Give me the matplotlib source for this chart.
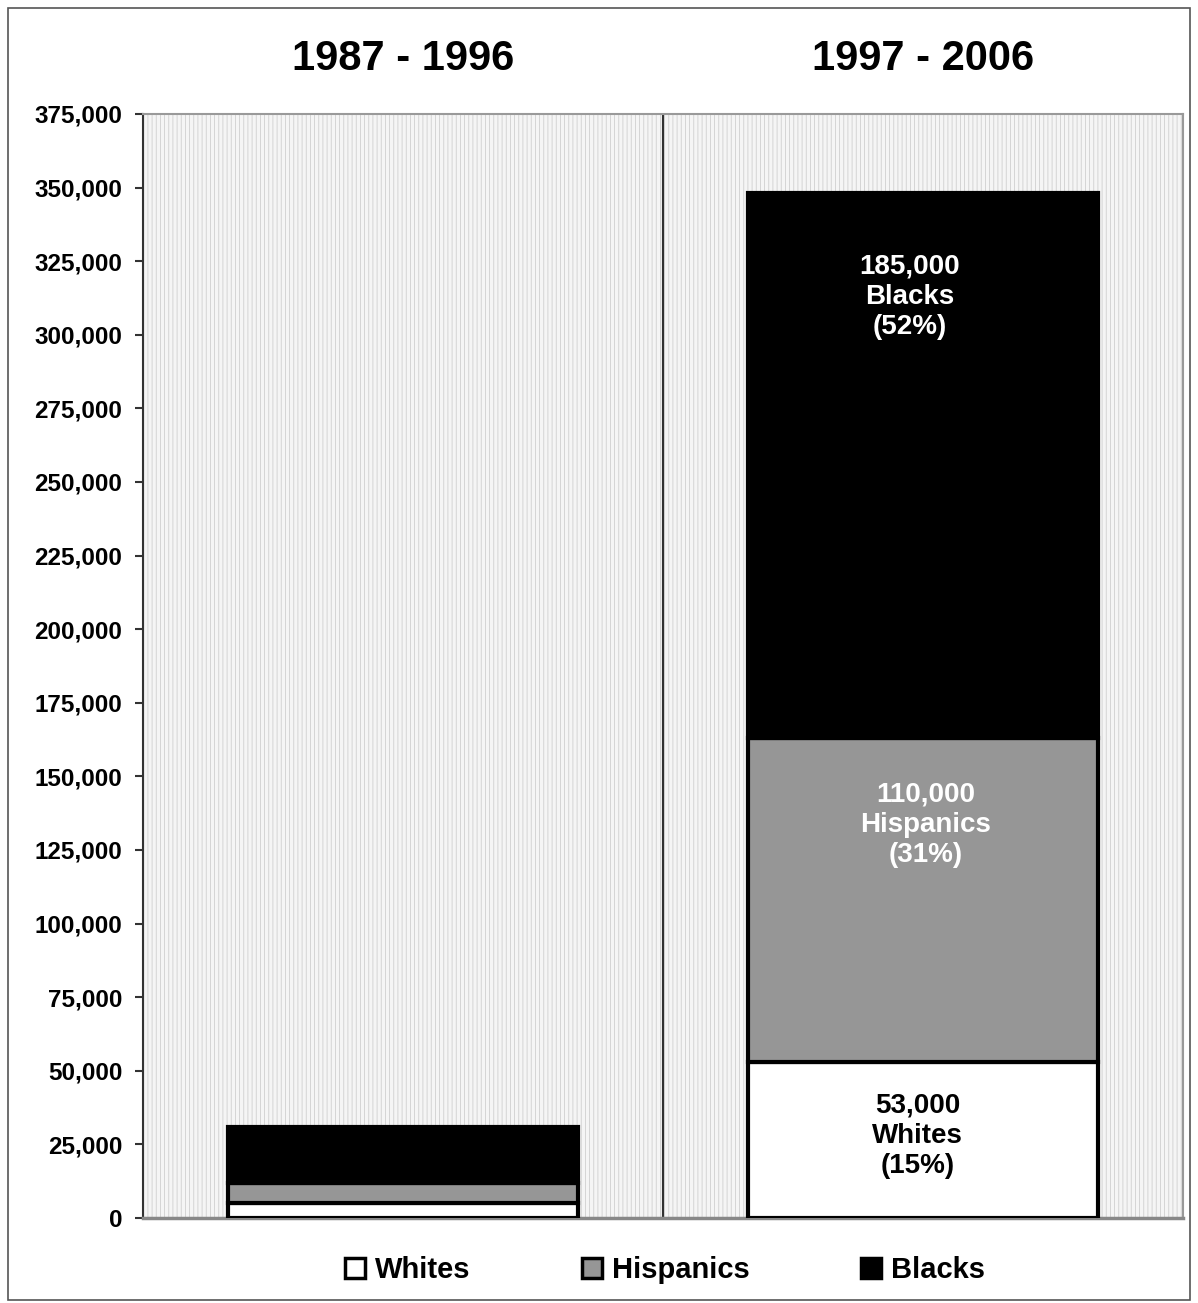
import matplotlib
matplotlib.use("Agg")
import matplotlib.pyplot as plt
from matplotlib.patches import Patch, Rectangle
from matplotlib.ticker import FuncFormatter

plt.rcParams['font.family'] = ['Liberation Sans', 'DejaVu Sans']
plt.rcParams['hatch.linewidth'] = 0.6

# data
periods = ["1987 - 1996", "1997 - 2006"]
groups = ["Whites", "Hispanics", "Blacks"]
whites = [5000, 53000]
hispanics = [7000, 110000]
blacks = [19000, 185000]
shares = {"Whites": "15%", "Hispanics": "31%", "Blacks": "52%"}
colors = {"Whites": "white", "Hispanics": "#969696", "Blacks": "black"}

fig = plt.figure(figsize=(11.98, 13.03), dpi=100)
ax = fig.add_axes([143 / 1198, 1 - 1218 / 1303, 1040 / 1198, 1104 / 1303])

# dotted grey background
ax.add_patch(Rectangle((0, 0), 1, 1, transform=ax.transAxes, facecolor="#f5f5f5",
                       edgecolor="#cfcfcf", linewidth=0, hatch="||||", zorder=0))

x = [0, 1]
w = 0.673
bottom = [0, 0]
for name, vals in zip(groups, [whites, hispanics, blacks]):
    ax.bar(x, vals, w, bottom=bottom, color=colors[name], edgecolor="black",
           linewidth=3, zorder=3)
    bottom = [b + v for b, v in zip(bottom, vals)]

# labels on second bar
txt_col = {"Whites": "black", "Hispanics": "white", "Blacks": "white"}
dx = {"Whites": -0.01, "Hispanics": 0.005, "Blacks": -0.025}
ypos = {"Whites": 28000, "Hispanics": 133500, "Blacks": 313000}
vals2 = {"Whites": whites[1], "Hispanics": hispanics[1], "Blacks": blacks[1]}
for name in groups:
    ax.text(1 + dx[name], ypos[name], f"{vals2[name]:,}\n{name}\n({shares[name]})",
            ha="center", va="center", color=txt_col[name], fontsize=20,
            fontweight="bold", linespacing=1.22, zorder=4)

ax.axvline(0.5, color="#333333", linewidth=1.5, zorder=2)

ax.set_xlim(-0.5, 1.5)
ax.set_ylim(0, 375000)
ax.set_yticks(range(0, 375001, 25000))
ax.yaxis.set_major_formatter(FuncFormatter(lambda v, p: f"{int(v):,}"))
ax.set_xticks([])
for lab in ax.get_yticklabels():
    lab.set_fontweight("bold")
ax.tick_params(axis="y", labelsize=17.5, length=6, width=1.5, color="#333333", pad=9)
ax.spines["left"].set_color("#333333")
ax.spines["left"].set_linewidth(1.5)
for s in ["top", "right"]:
    ax.spines[s].set_color("#999999")
    ax.spines[s].set_linewidth(1.5)
ax.spines["bottom"].set_color("#888888")
ax.spines["bottom"].set_linewidth(2.5)

# period titles
for xi, p in zip(x, periods):
    ax.text(xi, 1.05, p, transform=ax.get_xaxis_transform(), ha="center", va="center",
            fontsize=30, fontweight="bold")

# legend
handles = [Patch(facecolor=colors[g], edgecolor="black", linewidth=2.5) for g in groups]
fig.legend(handles, groups, loc="center", bbox_to_anchor=(665 / 1198, 1 - 1270 / 1303),
           ncol=3, frameon=False, handlelength=0.7, handleheight=0.7, handletextpad=0.35,
           columnspacing=3.8, prop={"size": 21, "weight": "bold"})

# outer frame
fig.add_artist(Rectangle((8 / 1198, 0.002), 1 - 16 / 1198, 1 - 8 / 1303 - 0.002,
                         transform=fig.transFigure, fill=False, edgecolor="#555555",
                         linewidth=1.2))

fig.savefig("out.png", dpi=100)
